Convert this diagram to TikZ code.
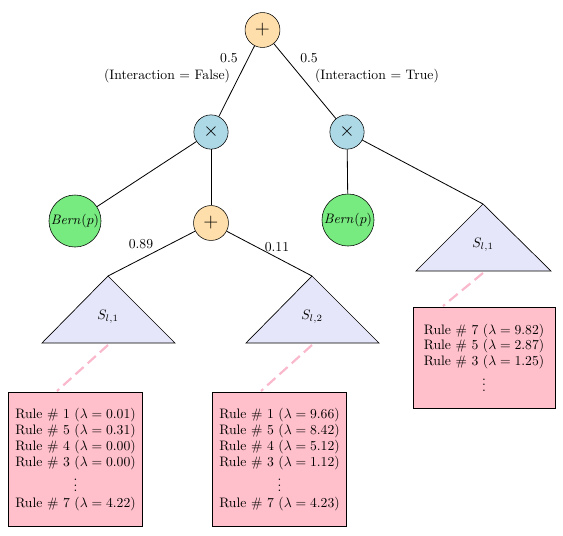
\documentclass[tikz,border=0pt]{standalone}
\usepackage{amsmath}
\definecolor{sumfill}{RGB}{254,222,170}
\definecolor{prodfill}{RGB}{173,216,230}
\definecolor{bernfill}{RGB}{119,234,128}
\definecolor{trifill}{RGB}{230,230,250}
\definecolor{boxfill}{RGB}{255,192,203}
\definecolor{dashcol}{RGB}{250,184,204}
\begin{document}
\begin{tikzpicture}[x=0.73pt,y=-0.73pt,
  sumnode/.style={circle,draw,fill=sumfill,minimum size=25.5pt,inner sep=0pt,font=\Large},
  prodnode/.style={circle,draw,fill=prodfill,minimum size=25pt,inner sep=0pt,font=\Large},
  bernnode/.style={circle,draw,fill=bernfill,minimum size=38pt,inner sep=0pt},
  tri/.style={draw,fill=trifill,line width=0.5pt},
  rulebox/.style={draw,fill=boxfill,line width=0.7pt,align=center,inner sep=0pt,font=\fontsize{10}{11.6}\selectfont},
  conn/.style={line width=0.6pt},
  dashconn/.style={draw=dashcol,line width=1.6pt,dash pattern=on 8pt off 4pt},
  lbl/.style={inner sep=1pt}]
\useasboundingbox (0,0) rectangle (563,535);

% nodes
\node[sumnode] (s0) at (262.5,30) {$+$};
\node[prodnode] (p1) at (211,132) {$\times$};
\node[prodnode] (p2) at (347,132) {$\times$};
\node[bernnode] (b1) at (75,221) {$\mathit{Bern}(p)$};
\node[bernnode] (b2) at (348,220) {$\mathit{Bern}(p)$};
\node[sumnode] (s1) at (211,223) {$+$};

% triangles
\coordinate (t1) at (108,276);
\coordinate (t2) at (312,276);
\coordinate (t3) at (483,204);
\filldraw[tri] (t1) -- (42,343) -- (175,343) -- cycle;
\filldraw[tri] (t2) -- (246,343) -- (379,343) -- cycle;
\filldraw[tri] (t3) -- (416,271) -- (551,271) -- cycle;
\node (l1) at (108,317) {$S_{l,1}$};
\node (l2) at (312,317) {$S_{l,2}$};
\node (l3) at (483,245) {$S_{l,1}$};
\coordinate (d1) at (108,345);
\coordinate (d2) at (312,345);
\coordinate (d3) at (483,273);

% edges
\draw[conn] (s0) -- (p1);
\draw[conn] (s0) -- (p2);
\draw[conn] (p1) -- (b1);
\draw[conn] (p1) -- (s1);
\draw[conn] (p2) -- (b2);
\draw[conn] (p2) -- (t3);
\draw[conn] (s1) -- (t1);
\draw[conn] (s1) -- (t2);

% edge labels
\node[lbl] (e1) at (229,58) {0.5};
\node[lbl] (e2) at (167,76) {(Interaction = False)};
\node[lbl] (e3) at (309,58) {0.5};
\node[lbl] (e4) at (377,76) {(Interaction = True)};
\node[lbl] (e5) at (141,244) {0.89};
\node[lbl] (e6) at (277,247) {0.11};

% boxes
\node[rulebox,minimum width=98.5pt,minimum height=98.5pt] (r1) at (75.5,459.5)
  {Rule \# 1 ($\lambda = 0.01$)\\Rule \# 5 ($\lambda = 0.31$)\\Rule \# 4 ($\lambda = 0.00$)\\Rule \# 3 ($\lambda = 0.00$)\\$\vdots$\\Rule \# 7 ($\lambda = 4.22$)};
\node[rulebox,minimum width=98.5pt,minimum height=98.5pt] (r2) at (279.5,459.5)
  {Rule \# 1 ($\lambda = 9.66$)\\Rule \# 5 ($\lambda = 8.42$)\\Rule \# 4 ($\lambda = 5.12$)\\Rule \# 3 ($\lambda = 1.12$)\\$\vdots$\\Rule \# 7 ($\lambda = 4.23$)};
\node[rulebox,minimum width=103.7pt,minimum height=73.7pt] (r3) at (484,357.5)
  {Rule \# 7 ($\lambda = 9.82$)\\Rule \# 5 ($\lambda = 2.87$)\\Rule \# 3 ($\lambda = 1.25$)\\$\vdots$};

\coordinate (k1) at (57,391);
\coordinate (k2) at (261,391);
\coordinate (k3) at (443,306);
\draw[dashconn] (d1) -- (k1);
\draw[dashconn] (d2) -- (k2);
\draw[dashconn] (d3) -- (k3);
\end{tikzpicture}
\end{document}
